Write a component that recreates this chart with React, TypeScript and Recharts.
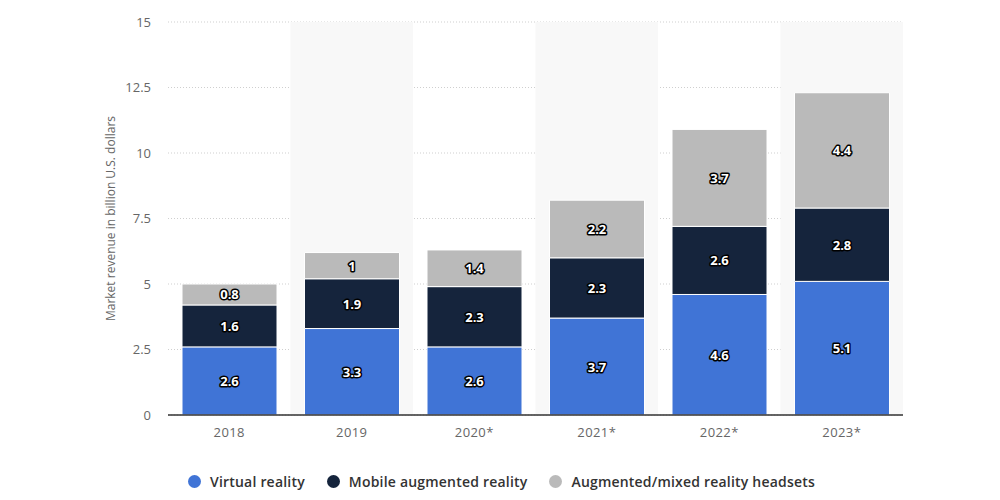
import { BarChart, Bar, XAxis, YAxis, CartesianGrid, Legend, LabelList, ReferenceArea } from "recharts";

const years = ["2018", "2019", "2020*", "2021*", "2022*", "2023*"];
const virtualReality = [2.6, 3.3, 2.6, 3.7, 4.6, 5.1];
const mobileAR = [1.6, 1.9, 2.3, 2.3, 2.6, 2.8];
const arHeadsets = [0.8, 1, 1.4, 2.2, 3.7, 4.4];
const yTicks = [0, 2.5, 5, 7.5, 10, 12.5, 15];
const shadedYears = ["2019", "2021*", "2023*"];

const SERIES = [
  { key: "vr", name: "Virtual reality", color: "#4074d6" },
  { key: "mar", name: "Mobile augmented reality", color: "#15243c" },
  { key: "hs", name: "Augmented/mixed reality headsets", color: "#bababa" },
];

const data = years.map((y, i) => ({ year: y, vr: virtualReality[i], mar: mobileAR[i], hs: arHeadsets[i] }));

const FONT = "'Open Sans', sans-serif";

const renderLabel = (props: any) => {
  const { x, y, width, height, value } = props;
  return (
    <text
      x={x + width / 2}
      y={y + height / 2}
      textAnchor="middle"
      dominantBaseline="central"
      fill="#fff"
      stroke="#000"
      strokeWidth={3}
      strokeLinejoin="round"
      paintOrder="stroke"
      fontFamily={FONT}
      fontWeight={700}
      fontSize={13}
    >
      {value}
    </text>
  );
};

const renderLegend = () => (
  <div style={{ display: "flex", justifyContent: "center", alignItems: "center", height: 45, paddingTop: 4, fontFamily: FONT, fontSize: 14, fontWeight: 600, color: "#333", letterSpacing: "0.2px" }}>
    {SERIES.map(s => (
      <div key={s.key} style={{ display: "flex", alignItems: "center", margin: "0 11px" }}>
        <span style={{ width: 13, height: 13, borderRadius: "50%", background: s.color, marginRight: 9, display: "inline-block" }} />
        {s.name}
      </div>
    ))}
  </div>
);

export default function App() {
  return (
    <div style={{ position: "absolute", left: 0, top: 0, background: "#fff" }}>
      <BarChart width={1000} height={500} data={data} margin={{ top: 22, right: 97, left: 100, bottom: 0 }}>
        {shadedYears.map(y => (
          <ReferenceArea key={y} x1={y} x2={y} y1={0} y2={15} fill="#f8f8f8" fillOpacity={1} stroke="none" ifOverflow="extendDomain" />
        ))}
        <CartesianGrid vertical={false} stroke="#cfcfcf" strokeDasharray="1 2" />
        <XAxis
          dataKey="year"
          tickLine={false}
          axisLine={{ stroke: "#333", strokeWidth: 1.5 }}
          tick={{ fill: "#666", fontSize: 13, fontFamily: FONT, letterSpacing: "0.4px" }}
          tickSize={0}
          tickMargin={13}
          height={40}
        />
        <YAxis
          domain={[0, 15]}
          ticks={yTicks}
          width={68}
          tickLine={false}
          axisLine={false}
          tickSize={0}
          tickMargin={17}
          tick={{ fill: "#666", fontSize: 13, fontFamily: FONT }}
          label={{
            content: (p: any) => {
              const vb = p.viewBox;
              const cx = 110;
              const cy = vb.y + vb.height / 2;
              return (
                <text x={cx} y={cy} transform={`rotate(-90 ${cx} ${cy})`} textAnchor="middle" dominantBaseline="central" fill="#666" fontSize={12} fontFamily={FONT}>
                  Market revenue in billion U.S. dollars
                </text>
              );
            },
          }}
        />
        <Legend verticalAlign="bottom" height={45} content={renderLegend} />
        {SERIES.map(s => (
          <Bar key={s.key} dataKey={s.key} name={s.name} stackId="a" fill={s.color} stroke="#fff" strokeWidth={1} barSize={95} isAnimationActive={false}>
            <LabelList dataKey={s.key} content={renderLabel} />
          </Bar>
        ))}
      </BarChart>
    </div>
  );
}
